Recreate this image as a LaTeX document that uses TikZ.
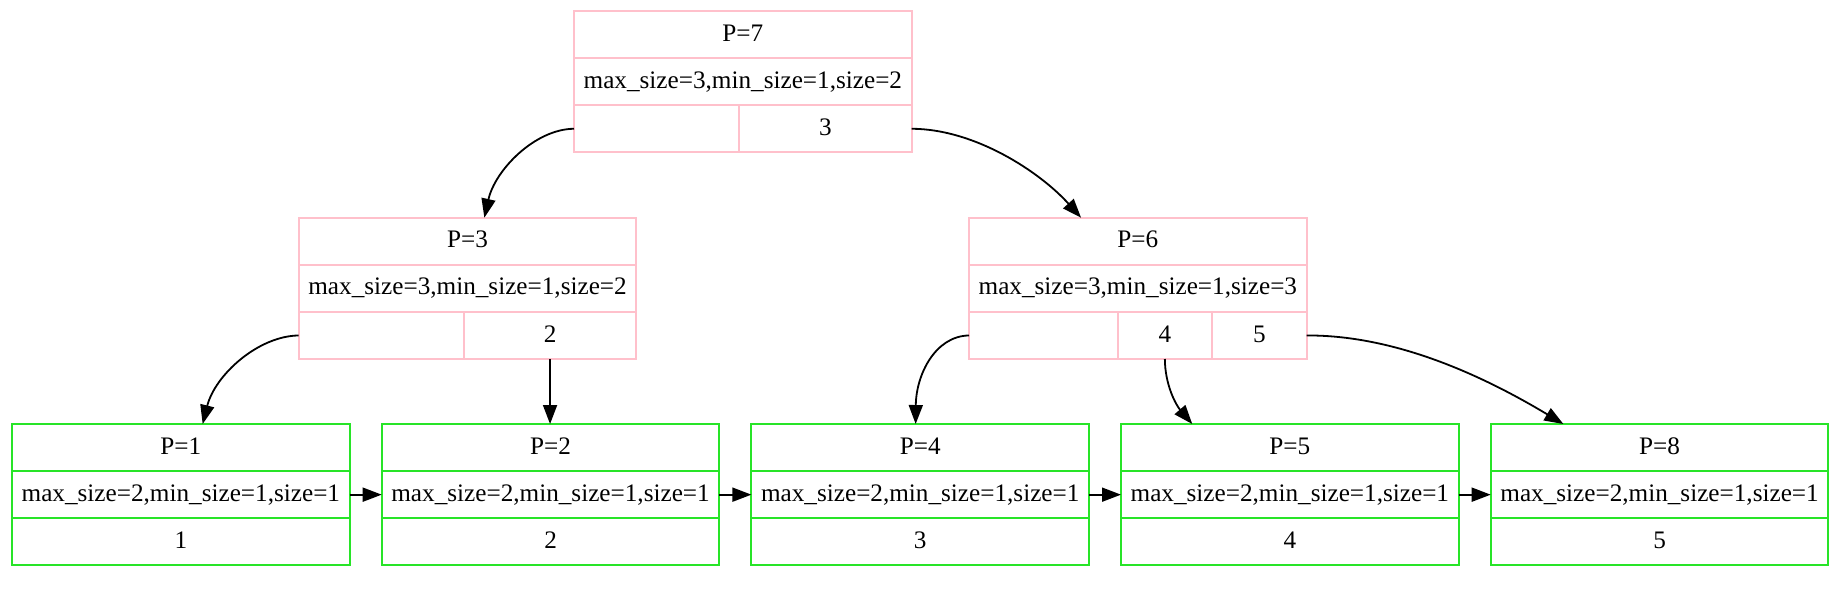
\documentclass[tikz,border=0pt]{standalone}
\usepackage{fontspec}
\setmainfont{Liberation Serif}
\usetikzlibrary{arrows.meta,calc}
\definecolor{pinkc}{RGB}{255,192,203}
\definecolor{greenc}{RGB}{40,228,40}
\tikzset{
  x=0.5pt,y=-0.5pt,
  rec/.style={draw=pinkc,line width=1pt,inner sep=0pt,outer sep=0pt,anchor=north west,
    minimum height=23.55pt,text height=0.662em,text depth=0pt,
    font=\fontsize{12.6}{15}\selectfont},
  leaf/.style={rec,draw=greenc,minimum width=168.85pt},
  full/.style={minimum width=168.85pt},
  arr/.style={line width=0.9pt,-{Triangle[length=9.5pt,width=7pt]}},
}
\begin{document}
\begin{tikzpicture}
\useasboundingbox (0,0) rectangle (1845,591);
% root P=7
\node[rec,full] (n7a) at (574,11) {P=7};
\node[rec,full] (n7b) at (574,58.1) {max\_size=3,min\_size=1,size=2};
\node[rec,minimum width=82.5pt] (n7c) at (574,105.2) {};
\node[rec,minimum width=86.35pt] (n7d) at (739,105.2) {3};
% P=3
\node[rec,full] (n3a) at (298.7,217.7) {P=3};
\node[rec,full] (n3b) at (298.7,264.8) {max\_size=3,min\_size=1,size=2};
\node[rec,minimum width=82.5pt] (n3c) at (298.7,311.9) {};
\node[rec,minimum width=86.35pt] (n3d) at (463.7,311.9) {2};
% P=6
\node[rec,full] (n6a) at (969,217.7) {P=6};
\node[rec,full] (n6b) at (969,264.8) {max\_size=3,min\_size=1,size=3};
\node[rec,minimum width=74.35pt] (n6c) at (969,311.9) {};
\node[rec,minimum width=47.15pt] (n6d) at (1117.7,311.9) {4};
\node[rec,minimum width=47.35pt] (n6e) at (1212,311.9) {5};
% leaves
\node[leaf] (l1a) at (12,424) {P=1};
\node[leaf] (l1b) at (12,471.1) {max\_size=2,min\_size=1,size=1};
\node[leaf] (l1c) at (12,518.2) {1};
\node[leaf] (l2a) at (381.7,424) {P=2};
\node[leaf] (l2b) at (381.7,471.1) {max\_size=2,min\_size=1,size=1};
\node[leaf] (l2c) at (381.7,518.2) {2};
\node[leaf] (l4a) at (751.4,424) {P=4};
\node[leaf] (l4b) at (751.4,471.1) {max\_size=2,min\_size=1,size=1};
\node[leaf] (l4c) at (751.4,518.2) {3};
\node[leaf] (l5a) at (1121,424) {P=5};
\node[leaf] (l5b) at (1121,471.1) {max\_size=2,min\_size=1,size=1};
\node[leaf] (l5c) at (1121,518.2) {4};
\node[leaf] (l8a) at (1490.7,424) {P=8};
\node[leaf] (l8b) at (1490.7,471.1) {max\_size=2,min\_size=1,size=1};
\node[leaf] (l8c) at (1490.7,518.2) {5};
% tree edges
\draw[arr] (n7c.west) .. controls (535,129) and (495,170) .. ([xshift=8.4pt]n3a.north);
\draw[arr] (n7d.east) .. controls (975,129) and (1040,172) .. ([xshift=-28.4pt]n6a.north);
\draw[arr] (n3c.west) .. controls (258,336) and (215,375) .. ([xshift=10.9pt]l1a.north);
\draw[arr] (n3d.south) -- (n3d.south |- l2a.north);
\draw[arr] (n6c.west) .. controls (935,336) and (916,375) .. ([xshift=-2.3pt]l4a.north);
\draw[arr] (n6d.south) .. controls (1165,385) and (1176,405) .. ([xshift=-48.8pt]l5a.north);
\draw[arr] (n6e.east) .. controls (1400,335) and (1490,380) .. ([xshift=-48.1pt]l8a.north);
% leaf chain
\draw[arr] (l1b.east) -- (l2b.west);
\draw[arr] (l2b.east) -- (l4b.west);
\draw[arr] (l4b.east) -- (l5b.west);
\draw[arr] (l5b.east) -- (l8b.west);
\end{tikzpicture}
\end{document}
